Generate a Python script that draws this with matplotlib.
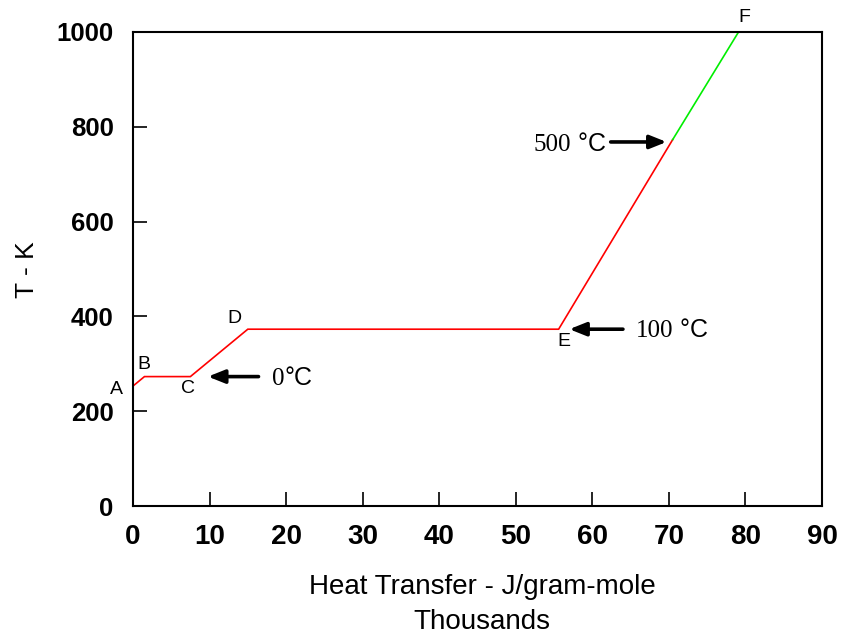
import matplotlib
matplotlib.use("Agg")
import matplotlib.pyplot as plt
from matplotlib import font_manager

# Data (heat transfer in thousands of J/gram-mole, temperature in K)
heat_red = [0.0, 1.5, 7.5, 15.0, 55.6, 70.5]
temp_red = [253, 273, 273, 373, 373, 773]
heat_green = [70.5, 79.1]
temp_green = [773, 1000]

point_labels = ["A", "B", "C", "D", "E", "F"]
label_x = [-2.1, 1.4, 7.2, 13.2, 56.3, 79.9]
label_y = [245, 298, 247, 395, 347, 1030]

xticks = [0, 10, 20, 30, 40, 50, 60, 70, 80, 90]
yticks = [0, 200, 400, 600, 800, 1000]

names = {f.name for f in font_manager.fontManager.ttflist}
sans = "Liberation Sans" if "Liberation Sans" in names else "DejaVu Sans"
serif = "Liberation Serif" if "Liberation Serif" in names else "DejaVu Serif"

plt.rcParams["font.family"] = [sans]

fig = plt.figure(figsize=(8.41, 6.36), dpi=100)
ax = fig.add_axes([0.1581, 0.2044, 0.8193, 0.7453])

ax.plot(heat_red, temp_red, color="#ff0000", lw=1.2, solid_joinstyle="miter")
ax.plot(heat_green, temp_green, color="#00ee00", lw=1.2)

ax.set_xlim(0, 90)
ax.set_ylim(0, 1000)
ax.set_xticks(xticks)
ax.set_yticks(yticks)
ax.tick_params(direction="in", length=10, width=1.2, top=False, right=False)
ax.tick_params(axis="y", pad=14, labelsize=18.5)
ax.tick_params(axis="x", pad=13, labelsize=20)
ax.set_xticklabels([str(v) for v in xticks], fontweight="bold")
ax.set_yticklabels([str(v) for v in yticks], fontweight="bold")
for sp in ax.spines.values():
    sp.set_linewidth(1.5)

fig.text(27 / 841, 1 - 270 / 636, "T - K", rotation=90, fontsize=19,
         ha="center", va="center")
fig.text(482 / 841, 1 - 594 / 636, "Heat Transfer - J/gram-mole", fontsize=20,
         ha="center", va="baseline")
fig.text(482 / 841, 1 - 629 / 636, "Thousands", fontsize=20,
         ha="center", va="baseline")

for t, x, y in zip(point_labels, label_x, label_y):
    ax.text(x, y, t, fontsize=14, ha="center", va="center", clip_on=False)

arrow = dict(arrowstyle="-|>,head_length=1.0,head_width=0.4", color="black", lw=2.6,
             shrinkA=0, shrinkB=0)

# 0 °C
ax.annotate("", xy=(9.8, 273), xytext=(16.4, 273), arrowprops=arrow)
t0 = ax.text(18.2, 268, "0", fontsize=18, fontfamily=serif, ha="left", va="center")
ax.annotate("°C", xy=(1, 0), xycoords=t0, fontsize=18, fontfamily=sans,
            ha="left", va="bottom")

# 100 °C
ax.annotate("", xy=(57.0, 373), xytext=(64.0, 373), arrowprops=arrow)
t1 = ax.text(65.7, 369, "100", fontsize=18, fontfamily=serif, ha="left", va="center")
ax.annotate(" °C", xy=(1, 0), xycoords=t1, fontsize=18, fontfamily=sans,
            ha="left", va="bottom")

# 500 °C
ax.annotate("", xy=(69.7, 768), xytext=(62.4, 768), arrowprops=arrow)
t2 = ax.text(61.8, 764, " °C", fontsize=18, fontfamily=sans, ha="right", va="center")
ax.annotate("500", xy=(0, 0), xycoords=t2, fontsize=18, fontfamily=serif,
            ha="right", va="bottom")

fig.savefig("out.png", dpi=100)
